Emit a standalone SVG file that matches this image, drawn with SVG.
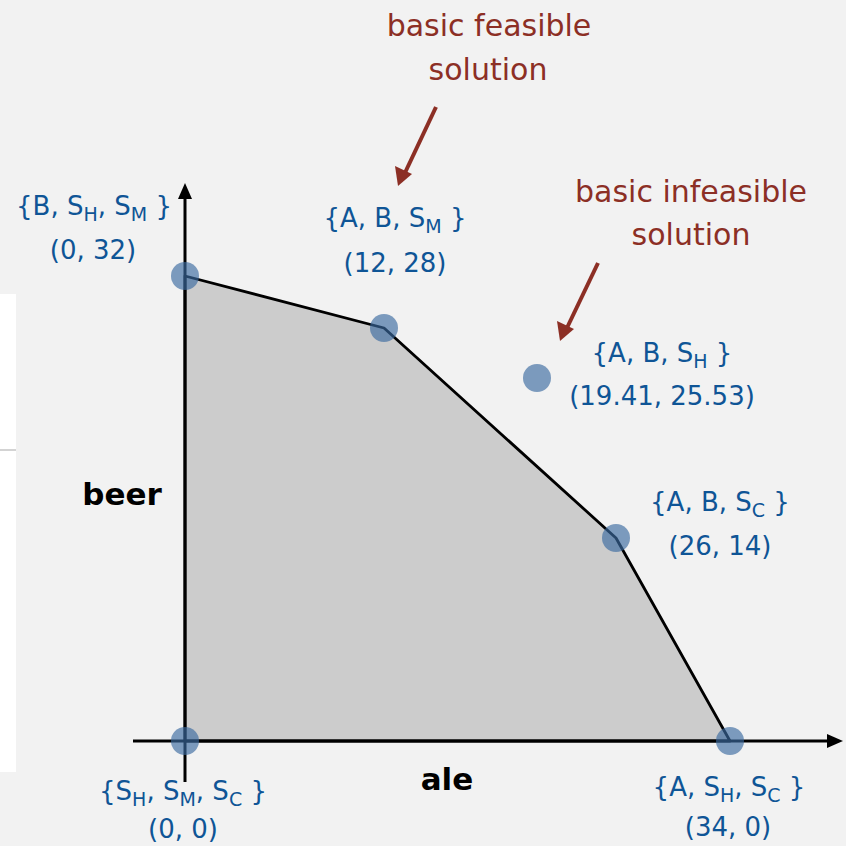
<svg xmlns="http://www.w3.org/2000/svg" width="846" height="846" viewBox="0 0 846 846">
<style>
.lbl{font-family:"DejaVu Sans","Liberation Sans",sans-serif;font-size:26px;fill:#0f5596;text-anchor:middle}
.sub{font-size:19px}
.note{font-family:"DejaVu Sans","Liberation Sans",sans-serif;font-size:30px;fill:#8c2f25;text-anchor:middle}
.axl{font-family:"DejaVu Sans","Liberation Sans",sans-serif;font-size:31px;font-weight:bold;fill:#000;text-anchor:middle}
.pt{fill:#3b6aa0;fill-opacity:0.65}
</style>
<rect width="846" height="846" fill="#f2f2f2"/>
<rect x="0" y="294" width="16" height="478" fill="#ffffff"/>
<line x1="0" y1="450" x2="16" y2="450" stroke="#c4c4c4" stroke-width="1.5"/>

<g id="region">
<polygon points="185,741 185,276 384,328 616,538 730,741" fill="#cccccc" stroke="#000" stroke-width="2.8" stroke-linejoin="round"/>
</g>

<g id="connectors">
<line x1="185" y1="782" x2="185" y2="198" stroke="#000" stroke-width="3"/>
<path d="M185,183 L178,199 L192,199 z" fill="#000"/>
<line x1="133" y1="741" x2="828" y2="741" stroke="#000" stroke-width="3"/>
<path d="M843,741 L827,734 L827,748 z" fill="#000"/>
<line x1="436" y1="107" x2="403" y2="177" stroke="#8c2f25" stroke-width="4"/>
<path d="M398,186 L395,166 L412,174 z" fill="#8c2f25"/>
<line x1="598" y1="263" x2="565" y2="332" stroke="#8c2f25" stroke-width="4"/>
<path d="M560,341 L557,321 L574,329 z" fill="#8c2f25"/>
</g>

<g id="p1"><circle class="pt" cx="185" cy="276" r="14"/>
<text class="lbl" x="94" y="215">{B, S<tspan class="sub" dy="6">H</tspan><tspan dy="-6">, S</tspan><tspan class="sub" dy="6">M</tspan><tspan dy="-6"> }</tspan></text>
<text class="lbl" x="93" y="259">(0, 32)</text></g>

<g id="p2"><circle class="pt" cx="384" cy="328" r="14"/>
<text class="lbl" x="395" y="227">{A, B, S<tspan class="sub" dy="6">M</tspan><tspan dy="-6"> }</tspan></text>
<text class="lbl" x="395" y="272">(12, 28)</text></g>

<g id="p3"><circle class="pt" cx="537" cy="378" r="14"/>
<text class="lbl" x="662" y="362">{A, B, S<tspan class="sub" dy="6">H</tspan><tspan dy="-6"> }</tspan></text>
<text class="lbl" x="662" y="405">(19.41, 25.53)</text></g>

<g id="p4"><circle class="pt" cx="616" cy="538" r="14"/>
<text class="lbl" x="720" y="511">{A, B, S<tspan class="sub" dy="6">C</tspan><tspan dy="-6"> }</tspan></text>
<text class="lbl" x="720" y="555">(26, 14)</text></g>

<g id="p5"><circle class="pt" cx="185" cy="741" r="14"/>
<text class="lbl" x="183" y="800">{S<tspan class="sub" dy="6">H</tspan><tspan dy="-6">, S</tspan><tspan class="sub" dy="6">M</tspan><tspan dy="-6">, S</tspan><tspan class="sub" dy="6">C</tspan><tspan dy="-6"> }</tspan></text>
<text class="lbl" x="183" y="838">(0, 0)</text></g>

<g id="p6"><circle class="pt" cx="730" cy="741" r="14"/>
<text class="lbl" x="729" y="796">{A, S<tspan class="sub" dy="6">H</tspan><tspan dy="-6">, S</tspan><tspan class="sub" dy="6">C</tspan><tspan dy="-6"> }</tspan></text>
<text class="lbl" x="728" y="836">(34, 0)</text></g>

<g id="notes">
<text class="note" x="489" y="36">basic feasible</text>
<text class="note" x="488" y="80">solution</text>
<text class="note" x="691" y="202">basic infeasible</text>
<text class="note" x="691" y="245">solution</text>
</g>

<g id="axes-labels">
<text class="axl" x="122" y="505">beer</text>
<text class="axl" x="447" y="790">ale</text>
</g>
</svg>
